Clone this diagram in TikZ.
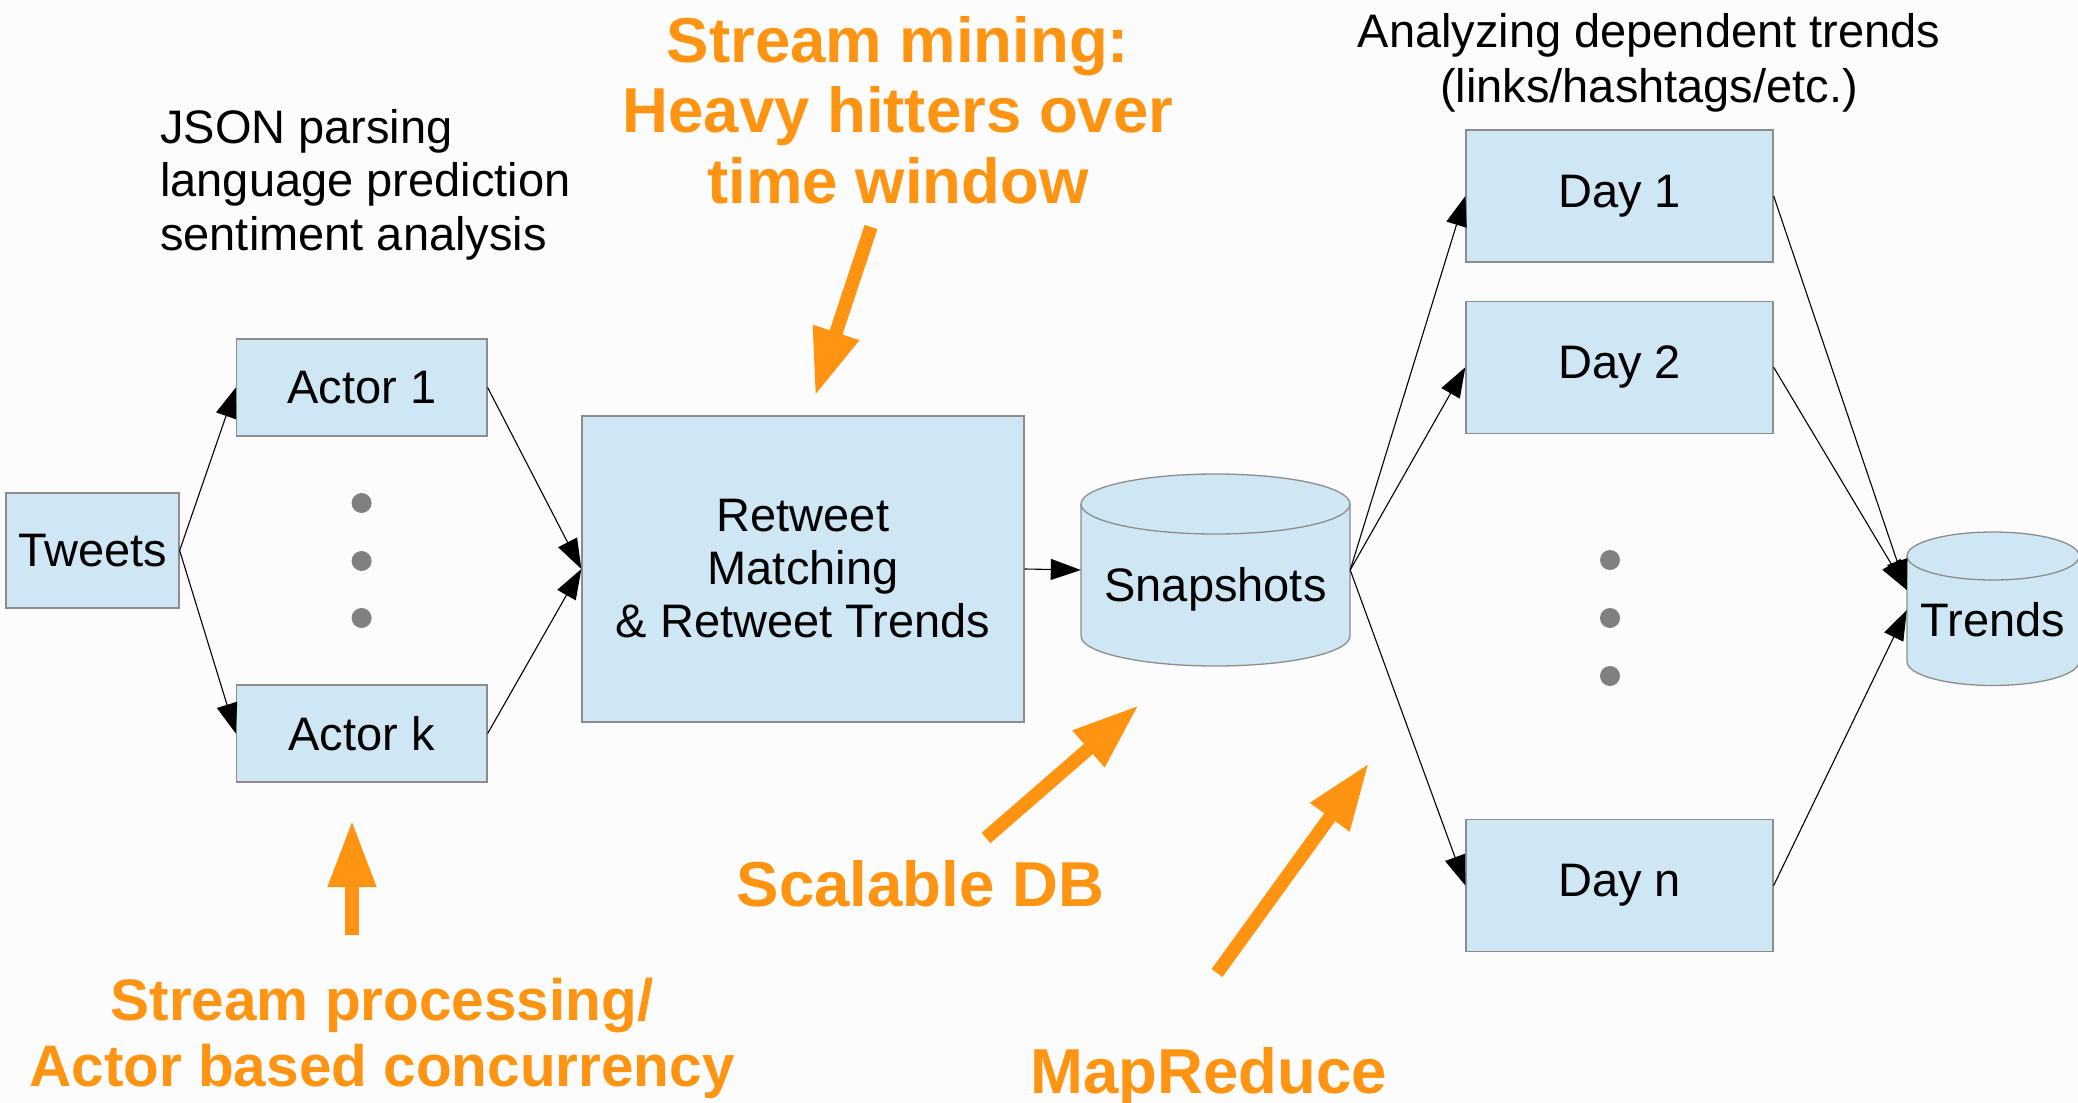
\documentclass[tikz,border=0pt]{standalone}
\usepackage{fontspec}
\setmainfont{Liberation Sans}
\usetikzlibrary{arrows.meta}
\definecolor{bg}{RGB}{252,252,252}
\definecolor{boxfill}{RGB}{207,231,245}
\definecolor{boxline}{RGB}{140,140,140}
\definecolor{orng}{RGB}{255,148,18}
\definecolor{dotgray}{RGB}{128,128,128}
\begin{document}
\begin{tikzpicture}[x=1pt,y=1pt,
  box/.style={draw=boxline, line width=1.3pt, fill=boxfill, inner sep=0pt, font=\fontsize{47}{53}\selectfont, align=center},
  anchorbox/.style={inner sep=0pt, draw=none},
  dbshape/.style={draw=boxline, line width=1.3pt, fill=boxfill},
  dbline/.style={draw=boxline, line width=1.3pt},
  lbl/.style={inner sep=0pt, font=\fontsize{47}{53.5}\selectfont},
  note/.style={inner sep=0pt, text=orng, font=\bfseries\fontsize{63.5}{70.5}\selectfont, align=center, anchor=base},
  conn/.style={draw=black, line width=1.1pt, -{Triangle[length=30pt,width=21pt]}},
  bigarrow/.style={draw=orng, line width=13.5pt, -{Triangle[length=67pt,width=45pt]}},
  dot/.style={circle, fill=dotgray, minimum size=20pt, inner sep=0pt}
]
\useasboundingbox (0,0) rectangle (2078,-1103);
\fill[bg] (0,0) rectangle (2078,-1103);

% boxes
\node[box, minimum width=173pt, minimum height=115pt] (tweets) at (92.5,-550.5) {Tweets};
\node[box, minimum width=250.5pt, minimum height=97pt] (actor1) at (361.75,-387.5) {Actor 1};
\node[box, minimum width=250.5pt, minimum height=97pt] (actork) at (361.75,-733.5) {Actor k};
\node[box, minimum width=442pt, minimum height=306pt] (retweet) at (803,-569) {Retweet\\Matching\\\& Retweet Trends};
\node[box, minimum width=307pt, minimum height=132pt] (day1) at (1619.5,-196) {Day 1};
\node[box, minimum width=307pt, minimum height=132pt] (day2) at (1619.5,-367.25) {Day 2};
\node[box, minimum width=307pt, minimum height=132pt] (dayn) at (1619.5,-885.5) {Day n};

% dots
\node[dot] (d1) at (361.6,-503) {};
\node[dot] (d2) at (361.6,-561) {};
\node[dot] (d3) at (361.6,-618) {};
\node[dot] (d4) at (1610,-560) {};
\node[dot] (d5) at (1610,-618) {};
\node[dot] (d6) at (1610,-676) {};

% Snapshots cylinder
\node[anchorbox, minimum width=269pt, minimum height=192pt] (snap) at (1215.5,-570) {};
\path[dbshape] (1081,-504) -- (1081,-636) arc[start angle=180,end angle=360,x radius=134.5,y radius=30]
  -- (1350,-504) arc[start angle=0,end angle=180,x radius=134.5,y radius=30] -- cycle;
\draw[dbline] (1081,-504) arc[start angle=180,end angle=360,x radius=134.5,y radius=30];
\node[lbl, anchor=base] (snaptext) at (1215.5,-601) {Snapshots};

% Trends cylinder
\node[anchorbox, minimum width=172pt, minimum height=153.5pt] (trends) at (1993,-609) {};
\path[dbshape] (1907,-556) -- (1907,-661.5) arc[start angle=180,end angle=360,x radius=86,y radius=24]
  -- (2079,-556) arc[start angle=0,end angle=180,x radius=86,y radius=24] -- cycle;
\draw[dbline] (1907,-556) arc[start angle=180,end angle=360,x radius=86,y radius=24];
\node[lbl, anchor=base] (trendstext) at (1993,-636) {Trends};

% connectors
\draw[conn] (tweets.east) -- (actor1.west);
\draw[conn] (tweets.east) -- (actork.west);
\draw[conn] (actor1.east) -- (retweet.west);
\draw[conn] (actork.east) -- (retweet.west);
\draw[conn] (retweet.east) -- (snap.west);
\draw[conn] (snap.east) -- (day1.west);
\draw[conn] (snap.east) -- (day2.west);
\draw[conn] (snap.east) -- (dayn.west);
\draw[conn] (day1.east) -- ([yshift=19pt]trends.west);
\draw[conn] (day2.east) -- ([yshift=19pt]trends.west);
\draw[conn] (dayn.east) -- ([yshift=-1pt]trends.west);

% black notes (anchor=base is the baseline of the last line)
\node[lbl, anchor=base west, align=left] (json) at (160,-250) {JSON parsing\\language prediction\\sentiment analysis};
\node[lbl, anchor=base, align=center, font=\fontsize{47}{55}\selectfont] (analyz) at (1649,-102) {Analyzing dependent trends\\(links/hashtags/etc.)};

% orange notes
\node[note] (smine) at (898,-203) {Stream mining:\\Heavy hitters over\\time window};
\node[note] (sdb) at (920.5,-906) {Scalable DB};
\node[note] (mapred) at (1208.5,-1093) {MapReduce};
\node[note, font=\bfseries\fontsize{58.5}{66}\selectfont] (sproc) at (382,-1086) {Stream processing/\\Actor based concurrency};

% orange arrows
\coordinate (a1s) at (871,-227); \coordinate (a1e) at (815,-396);
\coordinate (a2s) at (352,-935); \coordinate (a2e) at (352,-820);
\coordinate (a3s) at (986,-838); \coordinate (a3e) at (1139,-705);
\coordinate (a4s) at (1217,-973); \coordinate (a4e) at (1369,-763);
\draw[bigarrow] (a1s) -- (a1e);
\draw[bigarrow] (a2s) -- (a2e);
\draw[bigarrow] (a3s) -- (a3e);
\draw[bigarrow] (a4s) -- (a4e);
\end{tikzpicture}
\end{document}
